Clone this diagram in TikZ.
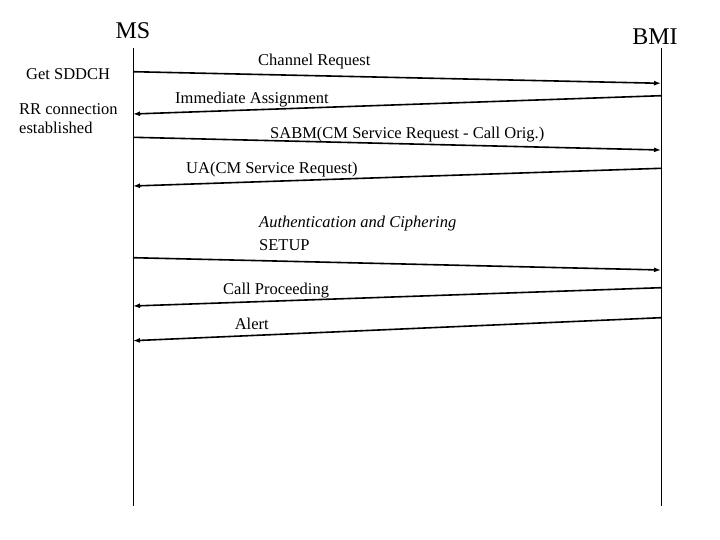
\documentclass[tikz,border=0pt]{standalone}
\usepackage{fontspec}
\setmainfont{Liberation Serif}
\usetikzlibrary{arrows.meta}
\begin{document}
\begin{tikzpicture}[x=1pt,y=-1pt,
  lifeline/.style={line width=1pt},
  msg/.style={line width=1.6pt,-{Latex[length=7pt,width=5pt]}},
  lbl/.style={inner sep=0pt,anchor=base west,font=\fontsize{16.5}{19}\selectfont},
  ttl/.style={inner sep=0pt,anchor=base,font=\fontsize{24}{28}\selectfont}]
\useasboundingbox (0,0) rectangle (720,540);
% lifelines
\coordinate (mstop) at (133,48);
\coordinate (msbot) at (133,506);
\coordinate (bmtop) at (661,48);
\coordinate (bmbot) at (661,506);
\draw[lifeline] (mstop) -- (msbot);
\draw[lifeline] (bmtop) -- (bmbot);
% titles
\node[ttl] (ms) at (133,38.5) {MS};
\node[ttl] (bmi) at (655,45) {BMI};
% side notes
\node[lbl] (getsd) at (26,79.5) {Get SDDCH};
\node[lbl] (rr1) at (19,115) {RR connection};
\node[lbl] (rr2) at (19,133.3) {established};
% message end points
\coordinate (m1a) at (133,71.7);  \coordinate (m1b) at (661,83.3);
\coordinate (m2a) at (661,95.7);  \coordinate (m2b) at (133,114);
\coordinate (m3a) at (133,137.3); \coordinate (m3b) at (661,150);
\coordinate (m4a) at (661,168.3); \coordinate (m4b) at (133,186);
\coordinate (m5a) at (133,257.7); \coordinate (m5b) at (661,270);
\coordinate (m6a) at (661,287.7); \coordinate (m6b) at (133,306);
\coordinate (m7a) at (661,317.7); \coordinate (m7b) at (133,340.7);
\draw[msg] (m1a) -- (m1b);
\draw[msg] (m2a) -- (m2b);
\draw[msg] (m3a) -- (m3b);
\draw[msg] (m4a) -- (m4b);
\draw[msg] (m5a) -- (m5b);
\draw[msg] (m6a) -- (m6b);
\draw[msg] (m7a) -- (m7b);
% message labels
\node[lbl] (l1) at (258,65.7) {Channel Request};
\node[lbl] (l2) at (175,103.3) {Immediate Assignment};
\node[lbl] (l3) at (270,138.3) {SABM(CM Service Request - Call Orig.)};
\node[lbl] (l4) at (186,174) {UA(CM Service Request)};
\node[lbl] (l5a) at (259,227.7) {\itshape Authentication and Ciphering};
\node[lbl] (l5) at (259,251) {SETUP};
\node[lbl] (l6) at (223,294.3) {Call Proceeding};
\node[lbl] (l7) at (234.6,329.3) {Alert};
\end{tikzpicture}
\end{document}
